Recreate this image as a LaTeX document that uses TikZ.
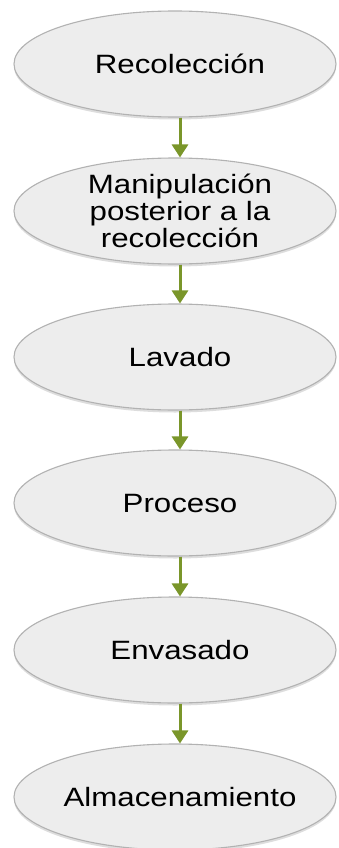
\documentclass[tikz,border=0pt]{standalone}
\usepackage{fontspec}
\setmainfont{Liberation Sans}[FakeStretch=1.18]
\usetikzlibrary{arrows.meta,shapes.geometric,shadows}
\definecolor{ovalfill}{RGB}{237,237,237}
\definecolor{ovalline}{RGB}{178,178,178}
\definecolor{arrowgreen}{RGB}{122,150,42}
\tikzset{
  oval/.style={ellipse, draw=ovalline, line width=1.1pt, fill=ovalfill,
    minimum width=322pt, minimum height=106pt, inner sep=0pt,
    drop shadow={shadow xshift=0pt, shadow yshift=-2.5pt, opacity=0.22, fill=black!60}},
  lbl/.style={anchor=base, inner sep=0pt, font=\fontsize{26.5}{27}\selectfont, text=black},
  flow/.style={draw=arrowgreen, line width=3pt, -{Triangle[width=16pt,length=13pt]}}
}
\begin{document}
\begin{tikzpicture}[x=1pt,y=-1pt]
\useasboundingbox (0,0) rectangle (338,848);
\fill[white] (0,0) rectangle (338,848);
\node[oval] (n1) at (175,64) {};
\node[oval] (n2) at (175,211) {};
\node[oval] (n3) at (175,357) {};
\node[oval] (n4) at (175,503) {};
\node[oval] (n5) at (175,650) {};
\node[oval] (n6) at (175,797) {};
\node[lbl] (t1) at (180,73.5) {Recolección};
\node[lbl] (t2) at (180,193) {\vtop{\baselineskip=27pt\halign{\hfil#\hfil\cr Manipulación\cr posterior a la\cr recolección\cr}}};
\node[lbl] (t3) at (180,366.5) {Lavado};
\node[lbl] (t4) at (180,512.5) {Proceso};
\node[lbl] (t5) at (180,659.5) {Envasado};
\node[lbl] (t6) at (180,806.5) {Almacenamiento};
\draw[flow] ([xshift=5pt]n1.south) -- ([xshift=5pt]n2.north);
\draw[flow] ([xshift=5pt]n2.south) -- ([xshift=5pt]n3.north);
\draw[flow] ([xshift=5pt]n3.south) -- ([xshift=5pt]n4.north);
\draw[flow] ([xshift=5pt]n4.south) -- ([xshift=5pt]n5.north);
\draw[flow] ([xshift=5pt]n5.south) -- ([xshift=5pt]n6.north);
\end{tikzpicture}
\end{document}
